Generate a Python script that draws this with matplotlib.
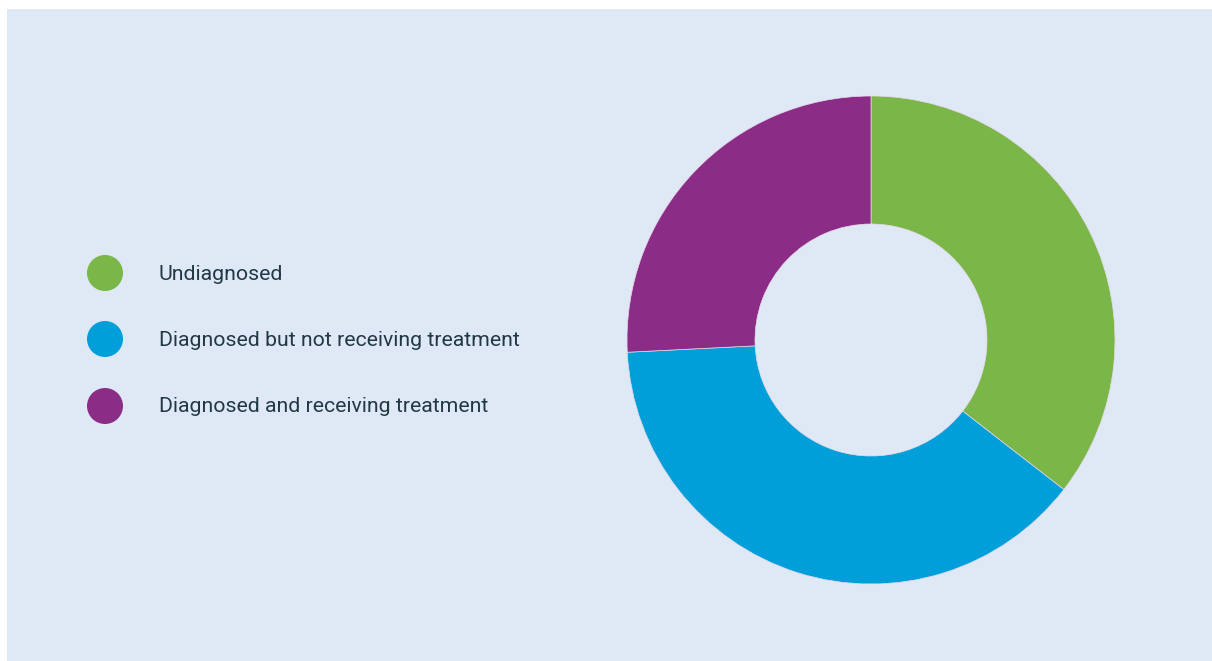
import matplotlib
matplotlib.use("Agg")
import matplotlib.pyplot as plt
from matplotlib.patches import Rectangle, Circle

categories = ["Undiagnosed", "Diagnosed but not receiving treatment", "Diagnosed and receiving treatment"]
values = [35.5, 38.7, 25.8]
colors = ["#7ab648", "#009fda", "#8b2d87"]

W, H = 1212, 661
fig = plt.figure(figsize=(W / 100, H / 100), dpi=100)
fig.patch.set_facecolor("white")
bg = "#dfe9f6"

# background + legend axes (pixel coordinates)
lax = fig.add_axes([0, 0, 1, 1], zorder=-1)
lax.set_xlim(0, W)
lax.set_ylim(H, 0)
lax.axis("off")
lax.add_patch(Rectangle((7, 9), W - 7, H - 9, facecolor=bg, edgecolor="none", zorder=0))
ys = [273, 339, 406]
for cat, col, y in zip(categories, colors, ys):
    lax.add_patch(Circle((105, y), 18, facecolor=col, edgecolor="none", zorder=2))
    lax.text(159, y + 1, cat, fontsize=15.3, color="#223845", va="center", ha="left",
             family="Roboto", zorder=3)

# donut
cx, cy, r = 871, 340, 244
ax = fig.add_axes([(cx - r) / W, (H - cy - r) / H, 2 * r / W, 2 * r / H], zorder=1)
ax.set_facecolor("none")
ax.pie(values, colors=colors, startangle=90, counterclock=False, radius=1.0,
       wedgeprops=dict(width=1 - 116 / 244, edgecolor="#e8d8ea", linewidth=0.5))
ax.set_xlim(-1, 1)
ax.set_ylim(-1, 1)
ax.set_aspect("equal")
ax.axis("off")

fig.savefig("out.png", dpi=100, facecolor="white")
